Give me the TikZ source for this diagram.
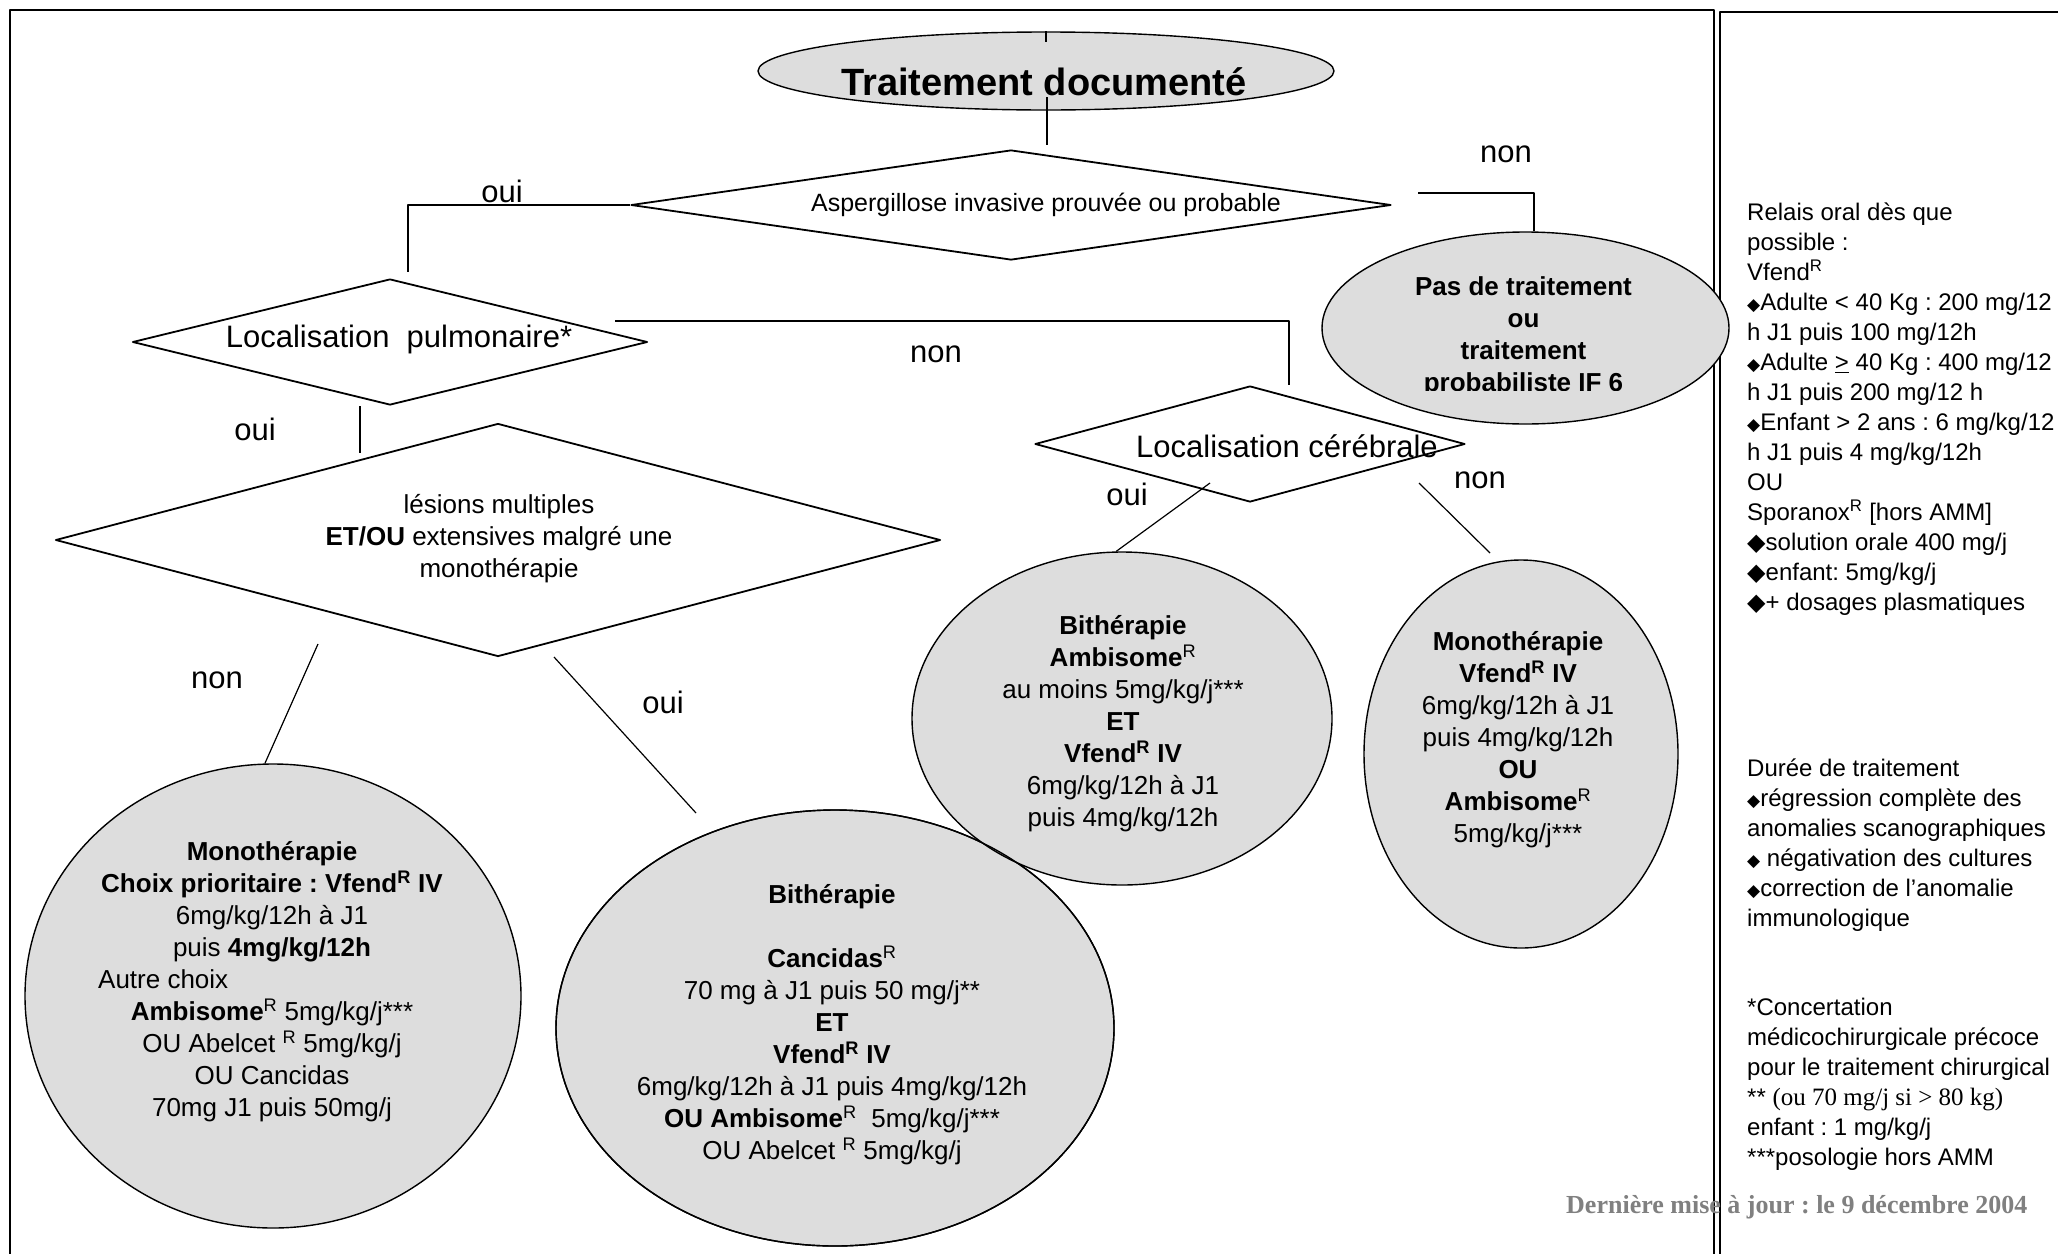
\documentclass[tikz,border=0pt]{standalone}
\usepackage{fontspec}
\setmainfont{Liberation Sans}
\newfontfamily\tnr{Liberation Serif}
\newfontfamily\dvs{DejaVu Sans}
\usetikzlibrary{shapes.geometric,calc}
\definecolor{ellgray}{HTML}{DDDDDD}
\definecolor{dategray}{HTML}{808080}
\newcommand\supR{\textsuperscript{R}}
\newcommand\smdia{{\dvs\fontsize{17}{17}\selectfont ◆}}
\newcommand\bgdia{{\dvs\fontsize{24}{24}\selectfont ◆}}
\begin{document}
\frenchspacing
\begin{tikzpicture}[x=1pt,y=-1pt,line join=round,
  frameline/.style={line width=2pt},
  dia/.style={diamond,draw,line width=1.8pt,inner sep=0pt},
  ell/.style={ellipse,draw,fill=ellgray,line width=1.4pt,inner sep=0pt},
  ellline/.style={line width=1.4pt},
  conn/.style={line width=1.2pt},
  lbl/.style={font=\fontsize{31}{31}\selectfont,inner sep=0pt,anchor=base},
  body/.style={font=\fontsize{26}{32}\selectfont,align=center,inner sep=0pt},
  boldbody/.style={font=\fontsize{26}{32}\selectfont\bfseries,align=center,inner sep=0pt},
  side/.style={font=\fontsize{24}{30}\selectfont,align=left,inner sep=0pt,anchor=west}]
\useasboundingbox (0,0) rectangle (2058,1253);
\fill[white] (0,0) rectangle (2058,1253);

% frames
\draw[frameline] (10,1270) -- (10,10) -- (1714,10) -- (1714,1270);
\draw[frameline] (2080,12) -- (1720,12) -- (1720,1270);

% decision diamonds
\node[dia,minimum width=760pt,minimum height=110pt] (asp) at (1011,205) {};
\node[dia,minimum width=515pt,minimum height=126pt] (pulm) at (390,342) {};
\node[dia,minimum width=430pt,minimum height=116pt] (cereb) at (1250,444) {};
\node[dia,minimum width=885pt,minimum height=233pt] (les) at (498,540) {};

% ellipses
\node[ell,minimum width=576pt,minimum height=78pt] (title) at (1046,71) {};
\node[ell,minimum width=407pt,minimum height=192pt] (pas) at (1525.5,328) {};
\node[ell,minimum width=496pt,minimum height=464pt] (monoL) at (273,996) {};
\node[ell,minimum width=558pt,minimum height=436pt] (bithB) at (835,1028) {};
\node[ell,minimum width=420pt,minimum height=333pt] (bithR) at (1122,718.5) {};
\node[ell,minimum width=314pt,minimum height=388pt] (monoR) at (1521,754) {};
\draw[ellline] (bithB.center) ellipse [x radius=279pt, y radius=218pt];

% connectors
\coordinate (a0) at (1047,97);
\coordinate (a1) at (1047,145);
\draw[conn] (title.north) -- ++(0,11);
\draw[conn] (a0) -- (a1);
\coordinate (b1) at (408,272);
\draw[conn] (asp.west) -| (b1);
\coordinate (c0) at (1418,193);
\draw[conn] (c0) -| (pas.85);
\coordinate (d0) at (615,321);
\coordinate (d1) at (1289,385);
\draw[conn] (d0) -| (d1);
\coordinate (e0) at (360,406);
\coordinate (e1) at (360,453);
\draw[conn] (e0) -- (e1);
\coordinate (f0) at (318,644);
\draw[conn] (f0) -- (monoL.92);
\coordinate (g0) at (554,657);
\coordinate (g1) at (696,813);
\draw[conn] (g0) -- (g1);
\coordinate (h0) at (1210,483);
\draw[conn] (h0) -- (bithR.92);
\coordinate (i0) at (1419,483);
\coordinate (i1) at (1490,553);
\draw[conn] (i0) -- (i1);

% labels on connectors
\node[lbl] (l1) at (502,202) {oui};
\node[lbl] (l2) at (1506,162) {non};
\node[lbl] (l3) at (936,362) {non};
\node[lbl] (l4) at (255,440) {oui};
\node[lbl] (l5) at (217,688) {non};
\node[lbl] (l6) at (663,713) {oui};
\node[lbl] (l7) at (1127,505) {oui};
\node[lbl] (l8) at (1480,488) {non};

% texts of shapes
\node[font=\fontsize{38}{38}\selectfont\bfseries,inner sep=0pt,anchor=base] (ttitle) at (1044,95) {Traitement documenté};
\node[font=\fontsize{25}{25}\selectfont,inner sep=0pt,anchor=base] (tasp) at (1046,211) {Aspergillose invasive prouvée ou probable};
\node[lbl] (tpulm) at (399,347) {Localisation\ \ pulmonaire*};
\node[lbl] (tcereb) at (1287,457) {Localisation cérébrale};
\node[body] (tles) at (499,539) {lésions multiples\\\textbf{ET/OU} extensives malgré une\\monothérapie};

\begin{scope}
\clip (1300,200) rectangle (1760,390);
\node[boldbody] (tpas) at (1523.5,337) {Pas de traitement\\ou\\traitement\\probabiliste IF 6};
\end{scope}

\node[body] (tmonoL) at (272,982) {\textbf{Monothérapie}\\
\textbf{Choix prioritaire : Vfend\supR{} IV}\\
6mg/kg/12h à J1\\
puis \textbf{4mg/kg/12h}\\
\mbox{}\\
\textbf{Ambisome}\supR{} 5mg/kg/j***\\
OU Abelcet \supR{} 5mg/kg/j\\
OU Cancidas\\
70mg J1 puis 50mg/j};
\node[font=\fontsize{26}{32}\selectfont,inner sep=0pt,anchor=base west] (tautre) at (98,988) {Autre choix};

\node[body] (tbithB) at (832,1025) {\textbf{Bithérapie}\\
\mbox{}\\
\textbf{Cancidas}\supR\\
70 mg à J1 puis 50 mg/j**\\
\textbf{ET}\\
\textbf{Vfend\supR{} IV}\\
6mg/kg/12h à J1 puis 4mg/kg/12h\\
\textbf{OU Ambisome}\supR{}\ \ 5mg/kg/j***\\
OU Abelcet \supR{} 5mg/kg/j};

\node[body] (tbithR) at (1123,724) {\textbf{Bithérapie}\\
\textbf{Ambisome}\supR\\
au moins 5mg/kg/j***\\
\textbf{ET}\\
\textbf{Vfend\supR{} IV}\\
6mg/kg/12h à J1\\
puis 4mg/kg/12h};

\node[body] (tmonoR) at (1518,740) {\textbf{Monothérapie}\\
\textbf{Vfend\supR{} IV}\\
6mg/kg/12h à J1\\
puis 4mg/kg/12h\\
\textbf{OU}\\
\textbf{Ambisome}\supR\\
5mg/kg/j***};

% side column
\node[side] (relais) at (1747,409) {Relais oral dès que\\
possible :\\
Vfend\supR\\
\smdia Adulte < 40 Kg : 200 mg/12\\
h J1 puis 100 mg/12h\\
\smdia Adulte \underline{>} 40 Kg : 400 mg/12\\
h J1 puis 200 mg/12 h\\
\smdia Enfant > 2 ans : 6 mg/kg/12\\
h J1 puis 4 mg/kg/12h\\
OU\\
Sporanox\supR{} [hors AMM]\\
\bgdia solution orale 400 mg/j\\
\bgdia enfant: 5mg/kg/j\\
\bgdia + dosages plasmatiques};

\node[side] (duree) at (1747,845) {Durée de traitement\\
\smdia régression complète des\\
anomalies scanographiques\\
\smdia\ négativation des cultures\\
\smdia correction de l’anomalie\\
immunologique};

\node[side] (notes) at (1747,1084) {*Concertation\\
médicochirurgicale précoce\\
pour le traitement chirurgical\\
** {\tnr\fontsize{25}{30}\selectfont (ou 70 mg/j si > 80 kg)}\\
enfant : 1 mg/kg/j\\
***posologie hors AMM};

\node[font=\tnr\fontsize{26}{26}\selectfont\bfseries,text=dategray,inner sep=0pt,anchor=base west] (date) at (1566,1213) {Dernière mise à jour : le 9 décembre 2004};
\end{tikzpicture}
\end{document}
